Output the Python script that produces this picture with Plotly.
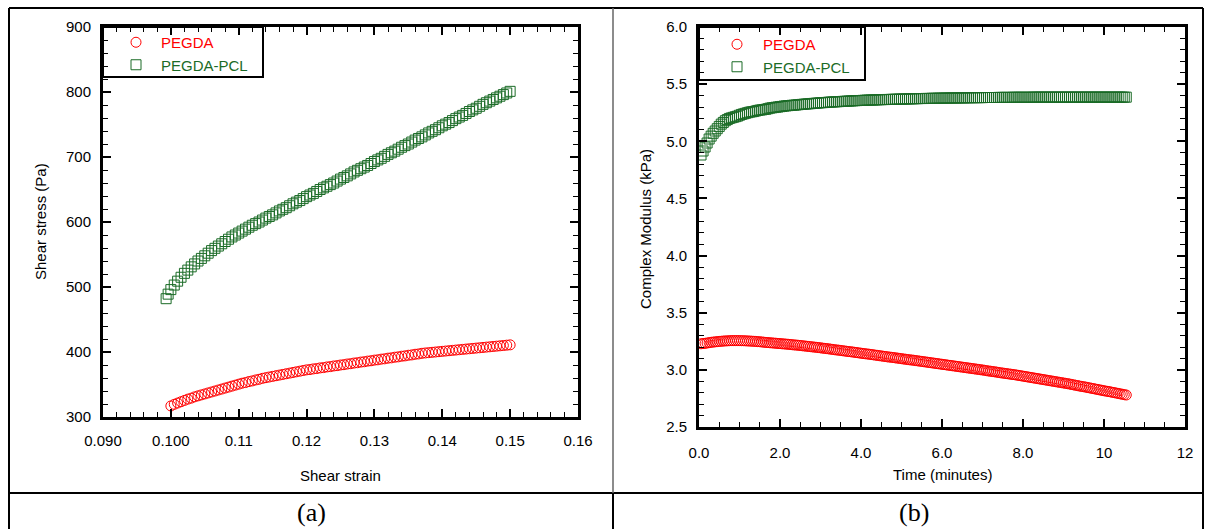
import plotly.graph_objects as go

# ---------------- data: panel (a) ----------------
strain_pegda = [
    0.1000, 0.1005, 0.1010, 0.1015, 0.1020, 0.1025, 0.1030, 0.1035, 0.1040, 0.1045,
    0.1050, 0.1055, 0.1060, 0.1065, 0.1070, 0.1075, 0.1080, 0.1085, 0.1090, 0.1095,
    0.1100, 0.1105, 0.1110, 0.1115, 0.1120, 0.1125, 0.1130, 0.1135, 0.1140, 0.1145,
    0.1150, 0.1155, 0.1160, 0.1165, 0.1170, 0.1175, 0.1180, 0.1185, 0.1190, 0.1195,
    0.1200, 0.1205, 0.1210, 0.1215, 0.1220, 0.1225, 0.1230, 0.1235, 0.1240, 0.1245,
    0.1250, 0.1255, 0.1260, 0.1265, 0.1270, 0.1275, 0.1280, 0.1285, 0.1290, 0.1295,
    0.1300, 0.1305, 0.1310, 0.1315, 0.1320, 0.1325, 0.1330, 0.1335, 0.1340, 0.1345,
    0.1350, 0.1355, 0.1360, 0.1365, 0.1370, 0.1375, 0.1380, 0.1385, 0.1390, 0.1395,
    0.1400, 0.1405, 0.1410, 0.1415, 0.1420, 0.1425, 0.1430, 0.1435, 0.1440, 0.1445,
    0.1450, 0.1455, 0.1460, 0.1465, 0.1470, 0.1475, 0.1480, 0.1485, 0.1490, 0.1495,
    0.1500]
stress_pegda = [
    317, 319.5, 321.5, 323.5, 325.5, 327.5, 329, 331, 332.5, 334,
    335.5, 337, 338.5, 340, 341.5, 343, 344.5, 346, 347.5, 349,
    350.5, 352, 353, 354.5, 355.5, 357, 358, 359.5, 360.5, 361.5,
    362.5, 363.5, 364.5, 365.5, 366.5, 367.5, 368.5, 369.5, 370.5, 371.5,
    372.5, 373, 374, 374.5, 375.5, 376, 377, 377.5, 378.5, 379,
    380, 380.5, 381.5, 382, 383, 383.5, 384.5, 385, 386, 386.5,
    387.5, 388, 389, 389.5, 390.5, 391, 392, 392.5, 393.5, 394,
    395, 395.5, 396.5, 397, 398, 398.5, 399, 399.5, 400, 400.5,
    401, 401.5, 402, 402.5, 403, 403.5, 404, 404.5, 405, 405.5,
    406, 406.5, 407, 407.5, 408, 408.5, 409, 409.5, 410, 410.5,
    411]

strain_pcl = [
    0.0993, 0.0996,
    0.1000, 0.1005, 0.1010, 0.1015, 0.1020, 0.1025, 0.1030, 0.1035, 0.1040, 0.1045,
    0.1050, 0.1055, 0.1060, 0.1065, 0.1070, 0.1075, 0.1080, 0.1085, 0.1090, 0.1095,
    0.1100, 0.1105, 0.1110, 0.1115, 0.1120, 0.1125, 0.1130, 0.1135, 0.1140, 0.1145,
    0.1150, 0.1155, 0.1160, 0.1165, 0.1170, 0.1175, 0.1180, 0.1185, 0.1190, 0.1195,
    0.1200, 0.1205, 0.1210, 0.1215, 0.1220, 0.1225, 0.1230, 0.1235, 0.1240, 0.1245,
    0.1250, 0.1255, 0.1260, 0.1265, 0.1270, 0.1275, 0.1280, 0.1285, 0.1290, 0.1295,
    0.1300, 0.1305, 0.1310, 0.1315, 0.1320, 0.1325, 0.1330, 0.1335, 0.1340, 0.1345,
    0.1350, 0.1355, 0.1360, 0.1365, 0.1370, 0.1375, 0.1380, 0.1385, 0.1390, 0.1395,
    0.1400, 0.1405, 0.1410, 0.1415, 0.1420, 0.1425, 0.1430, 0.1435, 0.1440, 0.1445,
    0.1450, 0.1455, 0.1460, 0.1465, 0.1470, 0.1475, 0.1480, 0.1485, 0.1490, 0.1495,
    0.1500]
stress_pcl = [
    482, 489,
    496, 503, 509, 515, 521, 526, 531, 535.5, 540, 544,
    548, 552, 556, 559.5, 563, 566.5, 570, 573.5, 577, 580,
    583, 586, 589, 592, 595, 597.5, 600, 603, 606, 608.5,
    611, 614, 617, 619.5, 622, 625, 628, 630.5, 633, 636,
    639, 641.5, 644, 647, 650, 652.5, 655, 657.5, 660, 663,
    666, 668.5, 671, 674, 677, 679.5, 682, 684.5, 687, 690,
    693, 695.5, 698, 701, 704, 706.5, 709, 712, 715, 717.5,
    720, 723, 726, 728.5, 731, 734, 737, 739.5, 742, 745,
    748, 750.5, 753, 756, 759, 761.5, 764, 767, 770, 772.5,
    775, 778, 781, 783.5, 786, 788.5, 791, 793.5, 796, 798.5,
    801]

# ---------------- data: panel (b) ----------------
time_min = [
    0.05, 0.10, 0.15, 0.20, 0.25, 0.30, 0.35, 0.40, 0.45, 0.50,
    0.55, 0.60, 0.65, 0.70, 0.75, 0.80, 0.85, 0.90, 0.95, 1.00,
    1.05, 1.10, 1.15, 1.20, 1.25, 1.30, 1.35, 1.40, 1.45, 1.50,
    1.55, 1.60, 1.65, 1.70, 1.75, 1.80, 1.85, 1.90, 1.95, 2.00,
    2.05, 2.10, 2.15, 2.20, 2.25, 2.30, 2.35, 2.40, 2.45, 2.50,
    2.55, 2.60, 2.65, 2.70, 2.75, 2.80, 2.85, 2.90, 2.95, 3.00,
    3.05, 3.10, 3.15, 3.20, 3.25, 3.30, 3.35, 3.40, 3.45, 3.50,
    3.55, 3.60, 3.65, 3.70, 3.75, 3.80, 3.85, 3.90, 3.95, 4.00,
    4.05, 4.10, 4.15, 4.20, 4.25, 4.30, 4.35, 4.40, 4.45, 4.50,
    4.55, 4.60, 4.65, 4.70, 4.75, 4.80, 4.85, 4.90, 4.95, 5.00,
    5.05, 5.10, 5.15, 5.20, 5.25, 5.30, 5.35, 5.40, 5.45, 5.50,
    5.55, 5.60, 5.65, 5.70, 5.75, 5.80, 5.85, 5.90, 5.95, 6.00,
    6.05, 6.10, 6.15, 6.20, 6.25, 6.30, 6.35, 6.40, 6.45, 6.50,
    6.55, 6.60, 6.65, 6.70, 6.75, 6.80, 6.85, 6.90, 6.95, 7.00,
    7.05, 7.10, 7.15, 7.20, 7.25, 7.30, 7.35, 7.40, 7.45, 7.50,
    7.55, 7.60, 7.65, 7.70, 7.75, 7.80, 7.85, 7.90, 7.95, 8.00,
    8.05, 8.10, 8.15, 8.20, 8.25, 8.30, 8.35, 8.40, 8.45, 8.50,
    8.55, 8.60, 8.65, 8.70, 8.75, 8.80, 8.85, 8.90, 8.95, 9.00,
    9.05, 9.10, 9.15, 9.20, 9.25, 9.30, 9.35, 9.40, 9.45, 9.50,
    9.55, 9.60, 9.65, 9.70, 9.75, 9.80, 9.85, 9.90, 9.95, 10.00,
    10.05, 10.10, 10.15, 10.20, 10.25, 10.30, 10.35, 10.40, 10.45, 10.50,
    10.55]
modulus_pegda = [
    3.228, 3.230, 3.232, 3.235, 3.238, 3.241, 3.243, 3.245, 3.247, 3.249,
    3.250, 3.252, 3.253, 3.254, 3.255, 3.256, 3.256, 3.256, 3.256, 3.256,
    3.255, 3.255, 3.254, 3.253, 3.252, 3.251, 3.250, 3.249, 3.247, 3.246,
    3.244, 3.242, 3.240, 3.239, 3.237, 3.236, 3.234, 3.233, 3.231, 3.230,
    3.228, 3.227, 3.225, 3.224, 3.222, 3.220, 3.218, 3.217, 3.215, 3.213,
    3.211, 3.209, 3.207, 3.205, 3.203, 3.201, 3.199, 3.197, 3.195, 3.193,
    3.190, 3.188, 3.186, 3.184, 3.181, 3.179, 3.176, 3.174, 3.172, 3.170,
    3.167, 3.165, 3.162, 3.160, 3.158, 3.156, 3.153, 3.151, 3.148, 3.146,
    3.143, 3.141, 3.139, 3.137, 3.134, 3.132, 3.129, 3.127, 3.124, 3.122,
    3.119, 3.117, 3.114, 3.112, 3.110, 3.108, 3.105, 3.103, 3.100, 3.098,
    3.095, 3.093, 3.090, 3.088, 3.086, 3.084, 3.081, 3.079, 3.076, 3.074,
    3.071, 3.069, 3.066, 3.064, 3.061, 3.059, 3.056, 3.054, 3.051, 3.049,
    3.046, 3.044, 3.041, 3.039, 3.036, 3.034, 3.031, 3.029, 3.026, 3.024,
    3.021, 3.019, 3.016, 3.014, 3.011, 3.009, 3.006, 3.004, 3.001, 2.999,
    2.996, 2.993, 2.990, 2.988, 2.985, 2.983, 2.980, 2.977, 2.974, 2.972,
    2.969, 2.967, 2.964, 2.962, 2.959, 2.957, 2.954, 2.951, 2.948, 2.945,
    2.942, 2.939, 2.936, 2.933, 2.930, 2.927, 2.924, 2.921, 2.918, 2.915,
    2.912, 2.909, 2.906, 2.903, 2.900, 2.897, 2.894, 2.891, 2.888, 2.885,
    2.882, 2.879, 2.876, 2.872, 2.869, 2.865, 2.862, 2.858, 2.855, 2.852,
    2.849, 2.845, 2.842, 2.838, 2.835, 2.831, 2.828, 2.824, 2.821, 2.817,
    2.814, 2.811, 2.808, 2.804, 2.801, 2.797, 2.794, 2.790, 2.787, 2.783,
    2.780]
modulus_pcl = [
    4.880, 4.915, 4.950, 4.985, 5.020, 5.045, 5.070, 5.090, 5.110, 5.130,
    5.150, 5.165, 5.180, 5.190, 5.200, 5.205, 5.210, 5.215, 5.220, 5.228,
    5.235, 5.240, 5.245, 5.250, 5.255, 5.258, 5.260, 5.265, 5.270, 5.273,
    5.275, 5.278, 5.280, 5.285, 5.290, 5.293, 5.295, 5.298, 5.300, 5.303,
    5.305, 5.308, 5.310, 5.312, 5.313, 5.315, 5.316, 5.318, 5.320, 5.322,
    5.323, 5.325, 5.326, 5.328, 5.329, 5.331, 5.332, 5.334, 5.335, 5.337,
    5.338, 5.339, 5.340, 5.342, 5.343, 5.344, 5.345, 5.346, 5.347, 5.348,
    5.349, 5.350, 5.351, 5.352, 5.353, 5.354, 5.355, 5.356, 5.357, 5.357,
    5.358, 5.359, 5.360, 5.360, 5.361, 5.361, 5.362, 5.363, 5.364, 5.364,
    5.365, 5.365, 5.366, 5.366, 5.367, 5.367, 5.368, 5.368, 5.369, 5.369,
    5.370, 5.370, 5.371, 5.371, 5.372, 5.372, 5.373, 5.373, 5.374, 5.374,
    5.374, 5.375, 5.375, 5.375, 5.376, 5.376, 5.376, 5.377, 5.377, 5.377,
    5.378, 5.378, 5.378, 5.379, 5.379, 5.379, 5.379, 5.380, 5.380, 5.380,
    5.380, 5.381, 5.381, 5.381, 5.381, 5.382, 5.382, 5.382, 5.382, 5.382,
    5.383, 5.383, 5.383, 5.383, 5.383, 5.383, 5.383, 5.384, 5.384, 5.384,
    5.384, 5.384, 5.384, 5.384, 5.385, 5.385, 5.385, 5.385, 5.385, 5.385,
    5.385, 5.385, 5.385, 5.385, 5.386, 5.386, 5.386, 5.386, 5.386, 5.386,
    5.386, 5.386, 5.386, 5.386, 5.386, 5.386, 5.386, 5.386, 5.386, 5.386,
    5.386, 5.386, 5.386, 5.386, 5.386, 5.386, 5.386, 5.386, 5.386, 5.386,
    5.386, 5.386, 5.386, 5.386, 5.386, 5.386, 5.386, 5.386, 5.386, 5.386,
    5.386, 5.386, 5.386, 5.386, 5.386, 5.386, 5.386, 5.386, 5.386, 5.386,
    5.386]

series_names = ["PEGDA", "PEGDA-PCL"]
RED = "#ff0000"
GREEN = "#1a6b26"

W, H = 1206, 529
def px(x):
    return x / W
def py(y):
    return 1 - y / H

FONT = "Liberation Sans, Arial, sans-serif"

fig = go.Figure()

def label(color, name):
    return "<span style='color:%s'>%s</span>" % (color, name)

fig.add_trace(go.Scatter(x=strain_pegda, y=stress_pegda, mode="markers", xaxis="x", yaxis="y",
                         name=label(RED, series_names[0]),
                         marker=dict(symbol="circle-open", size=10, color=RED, line=dict(width=1)),
                         legend="legend"))
fig.add_trace(go.Scatter(x=strain_pcl, y=stress_pcl, mode="markers", xaxis="x", yaxis="y",
                         name=label(GREEN, series_names[1]),
                         marker=dict(symbol="square-open", size=10, color=GREEN, line=dict(width=1)),
                         legend="legend"))
fig.add_trace(go.Scatter(x=time_min, y=modulus_pegda, mode="markers", xaxis="x2", yaxis="y2",
                         name=label(RED, series_names[0]),
                         marker=dict(symbol="circle-open", size=10, color=RED, line=dict(width=1)),
                         legend="legend2"))
fig.add_trace(go.Scatter(x=time_min, y=modulus_pcl, mode="markers", xaxis="x2", yaxis="y2",
                         name=label(GREEN, series_names[1]),
                         marker=dict(symbol="square-open", size=10, color=GREEN, line=dict(width=1)),
                         legend="legend2"))

axis_common = dict(showline=True, linewidth=3, linecolor="black", mirror="ticks",
                   ticks="inside", ticklen=8, tickwidth=1.5, tickcolor="black",
                   showgrid=False, zeroline=False,
                   tickfont=dict(family=FONT, size=15, color="black"))

fig.update_layout(
    width=W, height=H,
    margin=dict(l=0, r=0, t=0, b=0, pad=0, autoexpand=False),
    paper_bgcolor="white", plot_bgcolor="white",
    font=dict(family=FONT, size=15, color="black"),
    xaxis=dict(domain=[px(103), px(578)], anchor="y", range=[0.09, 0.16],
               tick0=0.09, dtick=0.01, labelalias={"0.09": "0.090", "0.1": "0.100"},
               minor=dict(ticks="inside", dtick=0.002, ticklen=5, tickwidth=1, tickcolor="black"),
               ticklabelstandoff=8, **axis_common),
    yaxis=dict(domain=[py(417), py(27)], anchor="x", range=[300, 900],
               tick0=300, dtick=100,
               minor=dict(ticks="inside", dtick=20, ticklen=5, tickwidth=1, tickcolor="black"),
               ticklabelstandoff=6, **axis_common),
    xaxis2=dict(domain=[px(699), px(1185)], anchor="y2", range=[0, 12],
                tick0=0, dtick=2, labelalias={"0": "0.0", "2": "2.0", "4": "4.0", "6": "6.0", "8": "8.0"},
                minor=dict(ticks="inside", dtick=0.5, ticklen=5, tickwidth=1, tickcolor="black"),
                ticklabelstandoff=10, **axis_common),
    yaxis2=dict(domain=[py(427), py(27)], anchor="x2", range=[2.5, 6.0],
                tick0=2.5, dtick=0.5, tickformat=".1f",
                minor=dict(ticks="inside", dtick=0.1, ticklen=5, tickwidth=1, tickcolor="black"),
                ticklabelstandoff=6, **axis_common),
    legend=dict(x=px(111), y=py(26), xanchor="left", yanchor="top",
                bgcolor="rgba(0,0,0,0)", borderwidth=0, tracegroupgap=0,
                font=dict(family=FONT, size=15), itemwidth=40),
    legend2=dict(x=px(711), y=py(28), xanchor="left", yanchor="top",
                 bgcolor="rgba(0,0,0,0)", borderwidth=0, tracegroupgap=0,
                 font=dict(family=FONT, size=15), itemwidth=42),
)

shapes = []
# legend boxes
shapes.append(dict(type="rect", xref="paper", yref="paper", x0=px(103), x1=px(263), y0=py(77), y1=py(27),
                   line=dict(color="black", width=2), fillcolor="white", layer="below"))
shapes.append(dict(type="rect", xref="paper", yref="paper", x0=px(699), x1=px(865), y0=py(80), y1=py(27),
                   line=dict(color="black", width=2), fillcolor="white", layer="below"))
# table lines
tl = dict(color="black", width=2)
shapes.append(dict(type="line", xref="paper", yref="paper", x0=px(9), x1=px(1203), y0=py(8), y1=py(8), line=tl))
shapes.append(dict(type="line", xref="paper", yref="paper", x0=px(9), x1=px(1203), y0=py(493), y1=py(493), line=tl))
shapes.append(dict(type="line", xref="paper", yref="paper", x0=px(9), x1=px(9), y0=0, y1=py(8), line=tl))
shapes.append(dict(type="line", xref="paper", yref="paper", x0=px(613), x1=px(613), y0=py(493), y1=py(8),
                   line=dict(color="#666666", width=1.5)))
shapes.append(dict(type="line", xref="paper", yref="paper", x0=px(613), x1=px(613), y0=0, y1=py(493), line=tl))
shapes.append(dict(type="line", xref="paper", yref="paper", x0=px(1203), x1=px(1203), y0=0, y1=py(8), line=tl))
fig.update_layout(shapes=shapes)

def note(text, x, y, size=15, family=FONT, angle=0):
    return dict(text=text, x=px(x), y=py(y), xref="paper", yref="paper",
                xanchor="center", yanchor="middle", showarrow=False, textangle=angle,
                font=dict(family=family, size=size, color="black"))

SERIF = "Liberation Serif, Times New Roman, serif"
ann = [
    note("Shear strain", 340, 475),
    note("Time (minutes)", 942, 474),
    note("Shear stress (Pa)", 40, 222, angle=-90),
    note("Complex Modulus (kPa)", 645, 229, angle=-90),
    note("(a)", 311, 512, size=26, family=SERIF),
    note("(b)", 914, 512, size=26, family=SERIF),
]
fig.update_layout(annotations=ann)

fig.write_html("out.html", config={"displayModeBar": False},
               post_script="document.body.style.margin='0';document.body.style.overflow='hidden';")
